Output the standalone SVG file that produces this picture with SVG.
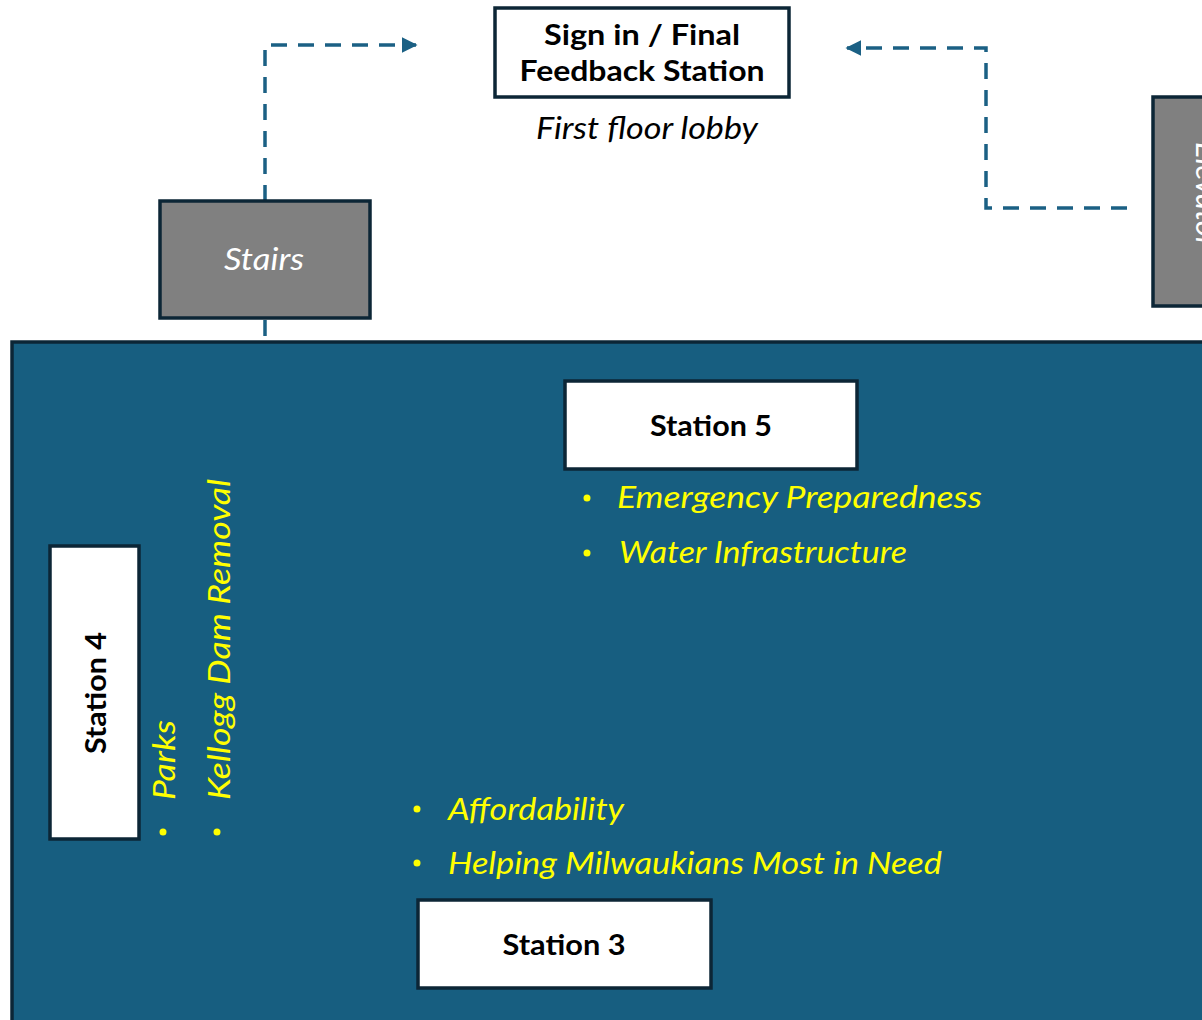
<svg xmlns="http://www.w3.org/2000/svg" width="1202" height="1020" viewBox="0 0 1202 1020">
<defs>
<style>
.box{fill:#ffffff;stroke:#0c2636;stroke-width:3.5}
.gray{fill:#808080;stroke:#0c2636;stroke-width:3.5}
.lbl{font-family:Lato,"Open Sans",sans-serif;font-weight:700;font-size:29px;fill:#000;text-anchor:middle}
.it{font-family:Lato,"Open Sans",sans-serif;font-style:italic;font-size:31px}
.yl{fill:#ffff00}
.dash{fill:none;stroke:#1b6084;stroke-width:3.5;stroke-dasharray:16 11}
.dot{fill:#ffff00}
</style>
<marker id="arr" viewBox="0 0 10 10" refX="9" refY="5" markerWidth="4.5" markerHeight="4.5" markerUnits="strokeWidth" orient="auto">
<path d="M0,0 L10,5 L0,10 Z" fill="#1b6084"/>
</marker>
</defs>
<rect width="1202" height="1020" fill="#ffffff"/>

<g id="main-area">
<rect x="12" y="342" width="1200" height="690" fill="#175e80" stroke="#0c2636" stroke-width="3.5"/>
</g>

<g id="connectors">
<path class="dash" d="M265,201 V45 H416" marker-end="url(#arr)"/>
<path class="dash" d="M265,320 V342"/>
<path class="dash" d="M1127,208 H986 V48 H847" marker-end="url(#arr)"/>
</g>

<g id="sign-in">
<rect class="box" x="495" y="8" width="294" height="89"/>
<text class="lbl" x="642" y="45" textLength="196" lengthAdjust="spacingAndGlyphs">Sign in / Final</text>
<text class="lbl" x="642" y="81" textLength="245" lengthAdjust="spacingAndGlyphs">Feedback Station</text>
<text class="it" x="647" y="139" text-anchor="middle" fill="#000" textLength="222" lengthAdjust="spacingAndGlyphs">First floor lobby</text>
</g>

<g id="stairs">
<rect class="gray" x="160" y="201" width="210" height="117"/>
<text class="it" x="264" y="270" text-anchor="middle" fill="#ffffff" textLength="80" lengthAdjust="spacingAndGlyphs">Stairs</text>
</g>

<g id="elevator">
<rect class="gray" x="1153" y="97" width="60" height="209"/>
<text class="it" transform="translate(1196,142) rotate(90)" fill="#ffffff">Elevator</text>
</g>

<g id="station5">
<rect class="box" x="565" y="381" width="292" height="88"/>
<text class="lbl" x="711" y="436" textLength="122" lengthAdjust="spacingAndGlyphs">Station 5</text>
<circle class="dot" cx="587" cy="498" r="3.5"/>
<text class="it yl" x="617" y="508" textLength="365" lengthAdjust="spacingAndGlyphs">Emergency Preparedness</text>
<circle class="dot" cx="587" cy="553" r="3.5"/>
<text class="it yl" x="619" y="563" textLength="288" lengthAdjust="spacingAndGlyphs">Water Infrastructure</text>
</g>

<g id="station4">
<rect class="box" x="50" y="546" width="89" height="293"/>
<text class="lbl" transform="translate(106,693) rotate(-90)" textLength="122" lengthAdjust="spacingAndGlyphs">Station 4</text>
<circle class="dot" cx="163" cy="832" r="3.5"/>
<text class="it yl" transform="translate(175,800) rotate(-90)" textLength="80" lengthAdjust="spacingAndGlyphs">Parks</text>
<circle class="dot" cx="217" cy="832" r="3.5"/>
<text class="it yl" transform="translate(230,800) rotate(-90)" textLength="321" lengthAdjust="spacingAndGlyphs">Kellogg Dam Removal</text>
</g>

<g id="station3">
<circle class="dot" cx="417" cy="809" r="3.5"/>
<text class="it yl" x="448" y="820" textLength="176" lengthAdjust="spacingAndGlyphs">Affordability</text>
<circle class="dot" cx="417" cy="863" r="3.5"/>
<text class="it yl" x="448" y="874" textLength="494" lengthAdjust="spacingAndGlyphs">Helping Milwaukians Most in Need</text>
<rect class="box" x="418" y="900" width="293" height="88"/>
<text class="lbl" x="564" y="955" textLength="123" lengthAdjust="spacingAndGlyphs">Station 3</text>
</g>
</svg>
